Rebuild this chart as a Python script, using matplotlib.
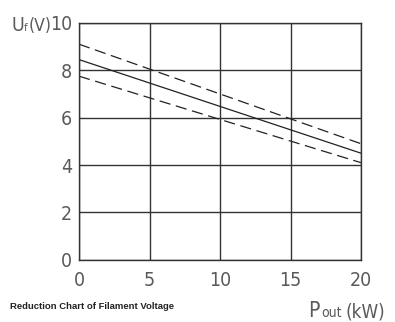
import matplotlib
matplotlib.use('Agg')
import matplotlib.pyplot as plt

# Pout in kW, filament voltage Uf in V
power = [0, 20]
uf_nominal = [8.45, 4.5]
uf_upper = [9.1, 4.9]
uf_lower = [7.75, 4.1]

x_ticks = [0, 5, 10, 15, 20]
y_ticks = [0, 2, 4, 6, 8, 10]

grey = '#5a5a5a'
cond = dict(family='DejaVu Sans', stretch='condensed', color=grey)

fig = plt.figure(figsize=(3.95, 3.22), dpi=100)
ax = fig.add_axes([0.2, 0.193, 0.714, 0.736])

ax.plot(power, uf_nominal, color='#222222', lw=0.9)
ax.plot(power, uf_upper, color='#222222', lw=0.9, dashes=(9, 4.5))
ax.plot(power, uf_lower, color='#222222', lw=0.9, dashes=(9, 4.5))

ax.set_xlim(0, 20)
ax.set_ylim(0, 10)
ax.set_xticks(x_ticks)
ax.set_yticks(y_ticks)
ax.grid(True, color='#333333', lw=1.0)
ax.set_axisbelow(True)
for s in ax.spines.values():
    s.set_color('#333333')
    s.set_linewidth(1.0)
ax.tick_params(axis='x', pad=8)
ax.tick_params(axis='y', pad=5)
ax.tick_params(length=0, labelsize=14, labelcolor=grey)
for lab in ax.get_xticklabels() + ax.get_yticklabels():
    lab.set_family('DejaVu Sans')
    lab.set_stretch('condensed')

# y axis label Uf(V)
fig.text(0.028, 0.905, 'U', fontsize=14, **cond)
fig.text(0.061, 0.905, 'f', fontsize=8, **cond)
fig.text(0.072, 0.905, '(V)', fontsize=12.5, **cond)

# x axis label Pout (kW)
fig.text(0.78, 0.015, 'P', fontsize=15, **cond)
fig.text(0.814, 0.015, 'out', fontsize=10, **cond)
fig.text(0.874, 0.015, '(kW)', fontsize=13.5, **cond)

fig.text(0.025, 0.04, 'Reduction Chart of Filament Voltage', fontsize=6.8,
         fontweight='bold', color='#222222', family='Liberation Sans')

plt.savefig('out.png', dpi=100)
